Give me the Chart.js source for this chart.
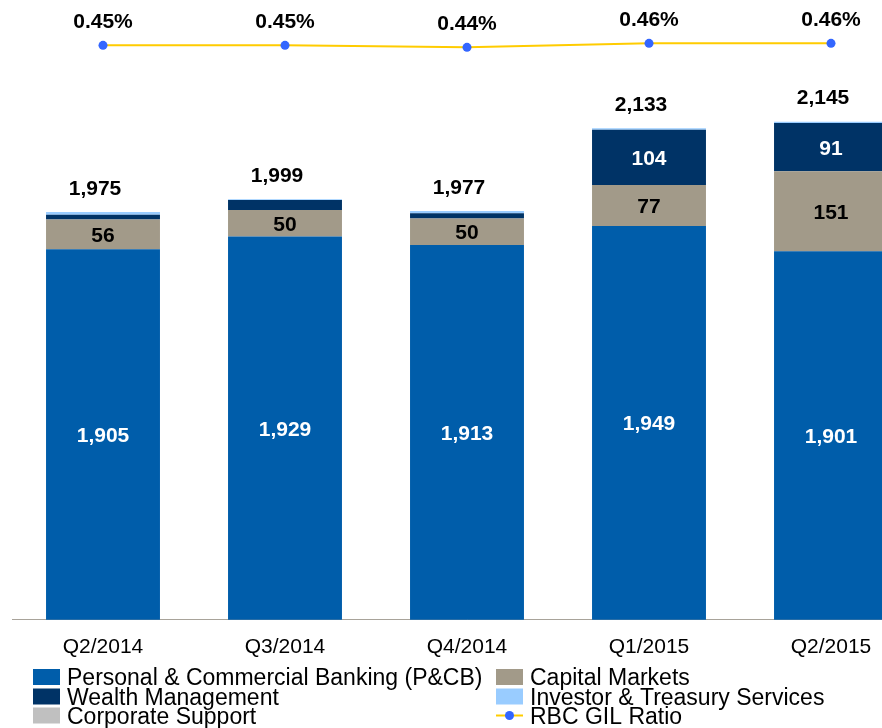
<!DOCTYPE html>
<html>
<head>
<meta charset="utf-8">
<title>RBC GIL</title>
<script src="https://cdn.jsdelivr.net/npm/chart.js@4.4.1/dist/chart.umd.min.js"></script>
<style>
    html, body { margin: 0; padding: 0; background: #fff; overflow: hidden; }
    #wrap { position: relative; width: 930px; height: 728px; }
</style>
</head>
<body>
<div id="wrap"><canvas id="grafico"></canvas></div>
<script>
// ===================== DADOS =====================
const trimestres = ['Q2/2014', 'Q3/2014', 'Q4/2014', 'Q1/2015', 'Q2/2015'];
const pcb = [1905, 1929, 1913, 1949, 1901];
const capitalMarkets = [56, 50, 50, 77, 151];
const wealth = [9, 19, 10, 104, 91];
const investorTreasury = [5, 1, 4, 3, 2];
const corporateSupport = [0, 0, 0, 0, 0];
const gilRatio = [0.45, 0.45, 0.44, 0.46, 0.46];

// ===================== CORES =====================
const corPCB = '#005DAA';
const corCM = '#A29A89';
const corWM = '#003366';
const corITS = '#99CCFF';
const corCS = '#C0C0C0';
const corLinha = '#FFCC00';
const corPonto = '#3366FF';

const fonte = '"Liberation Sans", Arial, sans-serif';

// rótulos dentro das barras: índice do dataset -> cor e valor mínimo
const rotulosBarras = {
    0: { cor: '#fff', min: 0 },
    1: { cor: '#000', min: 0 },
    2: { cor: '#fff', min: 60 }
};

function fmt(v) {
    return v.toLocaleString('en-US');
}

// ===================== PLUGIN RÓTULOS =====================
const pluginRotulos = {
    id: 'rotulos',
    afterDatasetsDraw(chart) {
        const ctx = chart.ctx;
        const area = chart.chartArea;
        ctx.save();
        ctx.font = 'bold 21px ' + fonte;
        ctx.textAlign = 'center';
        ctx.textBaseline = 'alphabetic';

        // valores de cada segmento
        Object.keys(rotulosBarras).forEach(k => {
            const di = Number(k);
            const cfg = rotulosBarras[di];
            const meta = chart.getDatasetMeta(di);
            meta.data.forEach((bar, i) => {
                const v = chart.data.datasets[di].data[i];
                if (v < cfg.min) return;
                const base = Math.min(bar.base, area.bottom);
                const cy = (bar.y + base) / 2;
                ctx.fillStyle = cfg.cor;
                ctx.fillText(fmt(v), bar.x, cy + 7.5);
            });
        });

        // totais acima das barras
        const barras = chart.data.datasets.filter(d => d.type !== 'line');
        const topo = chart.getDatasetMeta(barras.length - 1);
        trimestres.forEach((t, i) => {
            const total = barras.reduce((s, d) => s + d.data[i], 0);
            const el = topo.data[i];
            ctx.fillStyle = '#000';
            ctx.fillText(fmt(total), el.x - 8, el.y - 17.5);
        });

        // percentuais acima dos pontos
        const metaLinha = chart.getDatasetMeta(chart.data.datasets.length - 1);
        metaLinha.data.forEach((p, i) => {
            ctx.fillText(gilRatio[i].toFixed(2) + '%', p.x, p.y - 17.5);
        });
        ctx.restore();
    }
};

// ===================== PLUGIN LEGENDA =====================
const pluginLegenda = {
    id: 'legenda2col',
    afterDraw(chart) {
        const ctx = chart.ctx;
        const colunas = [33, 496];
        const linhas = [669, 688.5, 707.5];
        ctx.save();
        ctx.font = '23px ' + fonte;
        ctx.textBaseline = 'alphabetic';
        ctx.textAlign = 'left';
        chart.data.datasets.forEach((ds, i) => {
            const x = colunas[i % 2];
            const y = linhas[Math.floor(i / 2)];
            if (ds.type === 'line') {
                ctx.strokeStyle = ds.borderColor;
                ctx.lineWidth = 2;
                ctx.beginPath();
                ctx.moveTo(x, y + 8);
                ctx.lineTo(x + 27, y + 8);
                ctx.stroke();
                ctx.fillStyle = ds.pointBackgroundColor;
                ctx.beginPath();
                ctx.arc(x + 13.5, y + 8, 4.5, 0, Math.PI * 2);
                ctx.fill();
            } else {
                ctx.fillStyle = ds.backgroundColor;
                ctx.fillRect(x, y, 27, 16);
            }
            ctx.fillStyle = '#000';
            ctx.fillText(ds.label, x + 34, y + 16);
        });
        ctx.restore();
    }
};

// ===================== GRÁFICO =====================
const ctx = document.getElementById('grafico').getContext('2d');
new Chart(ctx, {
    data: {
        labels: trimestres,
        datasets: [
            { type: 'bar', label: 'Personal & Commercial Banking (P&CB)', data: pcb, backgroundColor: corPCB },
            { type: 'bar', label: 'Capital Markets', data: capitalMarkets, backgroundColor: corCM },
            { type: 'bar', label: 'Wealth Management', data: wealth, backgroundColor: corWM },
            { type: 'bar', label: 'Investor & Treasury Services', data: investorTreasury, backgroundColor: corITS },
            { type: 'bar', label: 'Corporate Support', data: corporateSupport, backgroundColor: corCS },
            {
                type: 'line', label: 'RBC GIL Ratio', data: gilRatio, yAxisID: 'y1',
                borderColor: corLinha, borderWidth: 2, tension: 0,
                pointRadius: 4.5, pointBackgroundColor: corPonto, pointBorderColor: corPonto, pointBorderWidth: 0
            }
        ]
    },
    options: {
        responsive: true,
        maintainAspectRatio: false,
        animation: false,
        layout: { padding: { top: 30, left: 12, right: 8, bottom: 53 } },
        datasets: { bar: { categoryPercentage: 1, barPercentage: 0.626, borderWidth: 0 } },
        plugins: {
            legend: { display: false },
            tooltip: { enabled: false }
        },
        scales: {
            x: {
                stacked: true,
                grid: { display: false, drawTicks: false },
                border: { display: true, color: '#A8A39A', width: 1 },
                ticks: { color: '#000', padding: 15, font: { family: fonte, size: 21 } }
            },
            y: { stacked: true, display: false, min: 1207, max: 2318 },
            y1: { display: false, min: -2.4185, max: 0.5265 }
        }
    },
    plugins: [pluginRotulos, pluginLegenda]
});
</script>
</body>
</html>
